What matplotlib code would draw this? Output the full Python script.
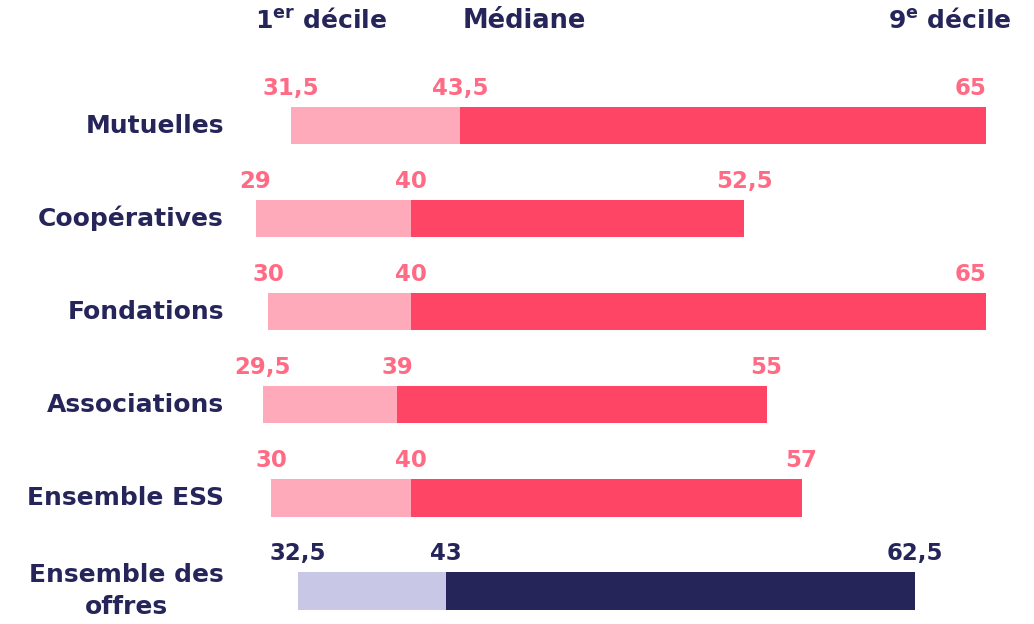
import numpy as np
import matplotlib.pyplot as plt

# données
categories = ["Mutuelles", "Coopératives", "Fondations", "Associations",
              "Ensemble ESS", "Ensemble des\noffres"]
decile1 = [31.5, 29, 30, 29.5, 30, 32.5]
mediane = [43.5, 40, 40, 39, 40, 43]
decile9 = [65, 52.5, 65, 55, 57, 62.5]
# le graphique d'origine n'est pas à l'échelle (surtout le 9e décile) :
# positions des barres, en unités de l'axe
decile1_barre = [31.4, 28.9, 29.8, 29.4, 30.0, 31.9]
mediane_barre = [43.5, 40.0, 40.0, 39.0, 40.0, 42.5]
decile9_barre = [81.1, 63.8, 81.1, 65.4, 67.9, 76.0]
labels1 = ["31,5", "29", "30", "29,5", "30", "32,5"]
labels_med = ["43,5", "40", "40", "39", "40", "43"]
labels9 = ["65", "52,5", "65", "55", "57", "62,5"]

rose_clair = "#FFAABA"
rouge = "#FF4565"
rose_txt = "#FF6B84"
marine = "#25255A"
lavande = "#C8C8E6"

plt.rcParams['font.family'] = ['DejaVu Sans']
plt.rcParams['mathtext.fontset'] = 'dejavusans'

fig = plt.figure(figsize=(10.34, 6.24), dpi=100)
ax = fig.add_axes([0, 0, 1, 1])
px = 14.0  # pixels par unité
ax.set_xlim(40 - 411 / px, 40 + (1034 - 411) / px)
ax.set_ylim(5.354, -1.348)
ax.axis("off")

y = np.arange(len(categories))
h = 0.4
for i in y:
    last = i == len(categories) - 1
    c_light = lavande if last else rose_clair
    c_dark = marine if last else rouge
    c_txt = marine if last else rose_txt
    ax.barh(i, mediane_barre[i] - decile1_barre[i], left=decile1_barre[i],
            height=h, color=c_light)
    ax.barh(i, decile9_barre[i] - mediane_barre[i], left=mediane_barre[i],
            height=h, color=c_dark)
    for xv, lab in [(decile1_barre[i], labels1[i]), (mediane_barre[i], labels_med[i]),
                    (decile9_barre[i], labels9[i])]:
        ax.text(xv, i - 0.40, lab, ha="right" if xv > 80 else "center", va="center",
                fontsize=16.5, fontweight="bold", color=c_txt)
    ax.text(40 + (224 - 411) / px, i, categories[i], ha="right", va="center",
            multialignment="center", fontsize=18, fontweight="bold", color=marine,
            linespacing=1.4)

fig.text(255 / 1034, 1 - 21 / 624, r"1$^{\mathbf{er}}$ décile", ha="left", va="center",
         fontsize=18, fontweight="bold", color=marine)
fig.text(463 / 1034, 1 - 21 / 624, "Médiane", ha="left", va="center",
         fontsize=18.5, fontweight="bold", color=marine)
fig.text(1012 / 1034, 1 - 21 / 624, r"9$^{\mathbf{e}}$ décile", ha="right", va="center",
         fontsize=18, fontweight="bold", color=marine)

fig.savefig("out.png", dpi=100)
